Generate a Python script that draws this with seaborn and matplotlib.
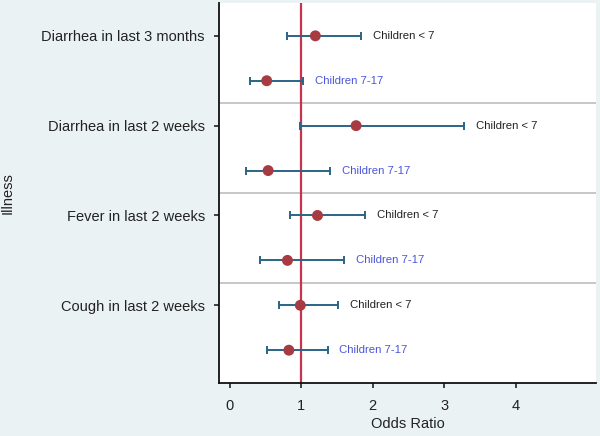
import numpy as np
import pandas as pd
import seaborn as sns
import matplotlib.pyplot as plt

# data
illness = ["Diarrhea in last 3 months", "Diarrhea in last 2 weeks",
           "Fever in last 2 weeks", "Cough in last 2 weeks"]
groups = ["Children < 7", "Children 7-17"]
odds_young = [1.20, 1.77, 1.23, 0.99]
lower_young = [0.80, 0.99, 0.84, 0.69]
upper_young = [1.84, 3.28, 1.90, 1.52]
odds_old = [0.52, 0.54, 0.81, 0.83]
lower_old = [0.29, 0.23, 0.43, 0.52]
upper_old = [1.03, 1.41, 1.60, 1.37]
x_ticks = [0, 1, 2, 3, 4]

rows = []
for i, name in enumerate(illness):
    rows.append(dict(illness=name, group=groups[0], pos=2 * i,
                     OR=odds_young[i], lo=lower_young[i], hi=upper_young[i]))
    rows.append(dict(illness=name, group=groups[1], pos=2 * i + 1,
                     OR=odds_old[i], lo=lower_old[i], hi=upper_old[i]))
df = pd.DataFrame(rows)

sns.set_style("white")
plt.rcParams['font.family'] = ['Liberation Sans', 'DejaVu Sans']

bg = "#EAF2F3"
fig = plt.figure(figsize=(6, 4.36), dpi=100, facecolor=bg)
ax = fig.add_axes([0.3655, 0.1216, 0.6285, 0.8714])
ax.set_facecolor("white")

# separators between illnesses
for k in range(1, len(illness)):
    ax.axhline(2 * k - 0.5, color="#BDBDBD", lw=1.2, zorder=1)

ax.axvline(1, color="#C8344C", lw=1.6, zorder=2)

ax.errorbar(df["OR"], df["pos"], xerr=[df["OR"] - df["lo"], df["hi"] - df["OR"]],
            fmt="none", ecolor="#2A6485", elinewidth=1.4, capsize=2.8, capthick=1.4, zorder=3)
sns.scatterplot(data=df, x="OR", y="pos", ax=ax, color="#A83B42", s=62,
                edgecolor="none", zorder=4, legend=False)

for _, r in df.iterrows():
    col = "#222222" if r["group"] == groups[0] else "#4A55DA"
    ax.annotate(r["group"], (r["hi"], r["pos"]), xytext=(8.5, 0),
                textcoords="offset points", va="center", ha="left",
                fontsize=8.2, color=col)

ax.set_xlim(-0.143, 5.13)
ax.set_ylim(7.73, -0.73)
ax.set_xticks(x_ticks)
ax.set_yticks([2 * i for i in range(len(illness))])
ax.set_yticklabels(illness)
ax.tick_params(axis="both", bottom=True, left=True, direction="out", length=3.8,
               width=1.2, color="#222222", labelsize=10.5, labelcolor="#222222")
ax.tick_params(axis="y", pad=6.5)
ax.tick_params(axis="x", pad=7.8)

for s in ["top", "right"]:
    ax.spines[s].set_visible(False)
for s in ["left", "bottom"]:
    ax.spines[s].set_color("#111111")
    ax.spines[s].set_linewidth(1.3)

ax.set_xlabel("Odds Ratio", fontsize=10.5, color="#222222", labelpad=3)
ax.set_ylabel("Illness", fontsize=10.5, color="#222222")
ax.yaxis.set_label_coords(-0.543, 0.5)

fig.savefig("out.png", dpi=100, facecolor=bg)
